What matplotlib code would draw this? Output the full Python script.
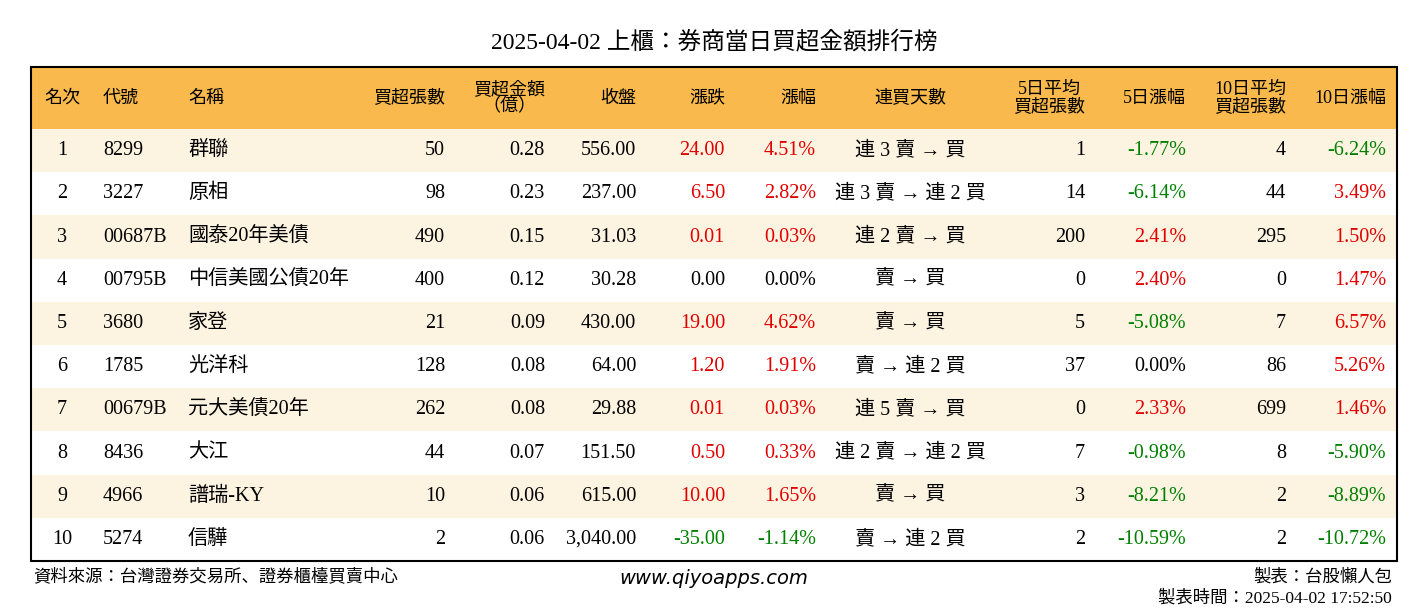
import matplotlib
matplotlib.use('Agg')
import matplotlib.pyplot as plt
from matplotlib.patches import Rectangle

plt.rcParams['font.family'] = ['Liberation Serif', 'Noto Sans CJK JP']

title = '2025-04-02 上櫃：券商當日買超金額排行榜'
headers = ['名次', '代號', '名稱', '買超張數', '買超金額\n（億）', '收盤', '漲跌', '漲幅',
           '連買天數', '5日平均\n買超張數', '5日漲幅', '10日平均\n買超張數', '10日漲幅']
codes = ['8299', '3227', '00687B', '00795B', '3680', '1785', '00679B', '8436', '4966', '5274']
names = ['群聯', '原相', '國泰20年美債', '中信美國公債20年', '家登', '光洋科', '元大美債20年', '大江', '譜瑞-KY', '信驊']
buy_lots = [50, 98, 490, 400, 21, 128, 262, 44, 10, 2]
buy_amt = [0.28, 0.23, 0.15, 0.12, 0.09, 0.08, 0.08, 0.07, 0.06, 0.06]
close = [556.00, 237.00, 31.03, 30.28, 430.00, 64.00, 29.88, 151.50, 615.00, 3040.00]
change = [24.00, 6.50, 0.01, 0.00, 19.00, 1.20, 0.01, 0.50, 10.00, -35.00]
pct = [4.51, 2.82, 0.03, 0.00, 4.62, 1.91, 0.03, 0.33, 1.65, -1.14]
streak = ['連 3 賣 → 買', '連 3 賣 → 連 2 買', '連 2 賣 → 買', '賣 → 買', '賣 → 買',
          '賣 → 連 2 買', '連 5 賣 → 買', '連 2 賣 → 連 2 買', '賣 → 買', '賣 → 連 2 買']
avg5 = [1, 14, 200, 0, 5, 37, 0, 7, 3, 2]
pct5 = [-1.77, -6.14, 2.41, 2.40, -5.08, 0.00, 2.33, -0.98, -8.21, -10.59]
avg10 = [4, 44, 295, 0, 7, 86, 699, 8, 2, 2]
pct10 = [-6.24, 3.49, 1.50, 1.47, 6.57, 5.26, 1.46, -5.90, -8.89, -10.72]

W, H = 1428, 612
fig = plt.figure(figsize=(W / 100, H / 100), dpi=100)

def fx(x): return x / W
def fy(y): return 1 - y / H

def col(v):
    if v > 0: return '#e00000'
    if v < 0: return '#008000'
    return 'black'

# column x positions and alignment
cols = [(62, 'center'), (103, 'left'), (188, 'left'), (445, 'right'), (545, 'right'),
        (636, 'right'), (725, 'right'), (816, 'right'), (910, 'center'), (1085, 'right'),
        (1186, 'right'), (1286, 'right'), (1386, 'right')]

left, right, top, head_bot = 31, 1397, 67, 129
row_h = 43.2
fig.text(0.5, fy(42), title, ha='center', va='center', fontsize=17)

fig.patches.append(Rectangle((fx(left), fy(head_bot)), fx(right - left), (head_bot - top) / H,
                             transform=fig.transFigure, facecolor='#f9b94c', edgecolor='none'))
for i in range(10):
    y0 = head_bot + i * row_h
    if i % 2 == 0:
        fig.patches.append(Rectangle((fx(left), fy(y0 + row_h)), fx(right - left), row_h / H,
                                     transform=fig.transFigure, facecolor='#fdf3e1', edgecolor='none'))
bottom = head_bot + 10 * row_h
fig.patches.append(Rectangle((fx(left), fy(bottom)), fx(right - left), (bottom - top) / H,
                             transform=fig.transFigure, facecolor='none', edgecolor='black', lw=1.5))

hy = (top + head_bot) / 2
for (x, ha), h in zip(cols, headers):
    fig.text(fx(x), fy(hy), h, ha=ha, va='center', fontsize=13, linespacing=0.95,
             multialignment='center')

for i in range(10):
    y = fy(head_bot + (i + 0.5) * row_h)
    vals = [(str(i + 1), 'black'), (codes[i], 'black'), (names[i], 'black'),
            (str(buy_lots[i]), 'black'), (f'{buy_amt[i]:.2f}', 'black'),
            (f'{close[i]:,.2f}', 'black'), (f'{change[i]:.2f}', col(change[i])),
            (f'{pct[i]:.2f}%', col(pct[i])), (streak[i], 'black'),
            (str(avg5[i]), 'black'), (f'{pct5[i]:.2f}%', col(pct5[i])),
            (str(avg10[i]), 'black'), (f'{pct10[i]:.2f}%', col(pct10[i]))]
    for (x, ha), (t, c) in zip(cols, vals):
        fig.text(fx(x), y, t, ha=ha, va='center', fontsize=14.5, color=c)

fig.text(fx(33), fy(577), '資料來源：台灣證券交易所、證券櫃檯買賣中心', ha='left', va='center', fontsize=12.5)
fig.text(0.5, fy(579), 'www.qiyoapps.com', ha='center', va='center', fontsize=14,
         style='italic', family='DejaVu Sans')
fig.text(fx(1392), fy(577), '製表：台股懶人包', ha='right', va='center', fontsize=12.5)
fig.text(fx(1392), fy(598), '製表時間：2025-04-02 17:52:50', ha='right', va='center', fontsize=12.5)

fig.savefig('out.png', dpi=100, facecolor='white')
